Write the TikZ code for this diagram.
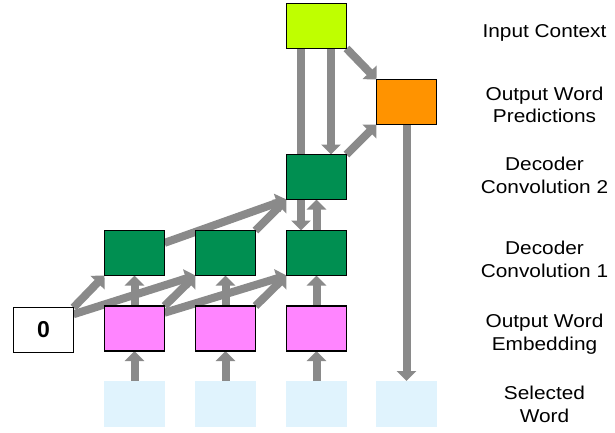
\documentclass[tikz,border=0pt]{standalone}
\usepackage{fontspec}
\setmainfont{Liberation Sans}
\newfontfamily\labfont{Liberation Sans}[FakeStretch=1.12]
\usetikzlibrary{arrows.meta,calc}
\definecolor{limec}{RGB}{191,255,0}
\definecolor{orangec}{RGB}{255,147,0}
\definecolor{greenc}{RGB}{0,143,81}
\definecolor{pinkc}{RGB}{255,133,255}
\definecolor{bluec}{RGB}{224,243,253}
\definecolor{arrowc}{RGB}{138,138,138}
\pgfdeclarelayer{background}
\pgfsetlayers{background,main}
\begin{document}
\begin{tikzpicture}[x=1pt,y=-1pt,
  box/.style={draw=black,line width=1.4pt,minimum width=60pt,minimum height=45pt,inner sep=0pt,outer sep=0pt},
  wordbox/.style={fill=bluec,minimum width=61pt,minimum height=46pt,inner sep=0pt,outer sep=0pt},
  conn/.style={draw=arrowc,line width=8pt,-{Triangle[width=19pt,length=10pt]}},
  plainconn/.style={draw=arrowc,line width=8pt},
  lab/.style={font=\labfont\fontsize{18.6}{22}\selectfont,anchor=base,inner sep=0pt}]
\useasboundingbox (0,0) rectangle (615,432);

% nodes
\node[box,fill=white,font=\bfseries\fontsize{23}{26}\selectfont] (zero) at (43.5,330) {0};
\foreach \i/\x in {1/134.5,2/225.5,3/316.5}{
  \node[wordbox] (w\i) at (\x,404) {};
  \node[box,fill=pinkc] (p\i) at (\x,328.5) {};
  \node[box,fill=greenc] (g\i) at (\x,253) {};
}
\node[wordbox] (w4) at (406.5,404) {};
\node[box,fill=greenc] (c2) at (316.5,177) {};
\node[box,fill=limec] (ctx) at (316.5,26) {};
\node[box,fill=orangec] (out) at (406.5,102) {};

% labels
\node[lab] (l1) at (544.5,37) {Input Context};
\node[lab] (l2a) at (544.5,100) {Output Word};
\node[lab] (l2b) at (544.5,122.5) {Predictions};
\node[lab] (l3a) at (544.5,170.5) {Decoder};
\node[lab] (l3b) at (544.5,193.3) {Convolution 2};
\node[lab] (l4a) at (544.5,254) {Decoder};
\node[lab] (l4b) at (544.5,277) {Convolution 1};
\node[lab] (l5a) at (544.5,327.5) {Output Word};
\node[lab] (l5b) at (544.5,350) {Embedding};
\node[lab] (l6a) at (544.5,399.5) {Selected};
\node[lab] (l6b) at (544.5,422) {Word};

% connectors
\begin{pgfonlayer}{background}
\foreach \i in {1,2,3}{
  \draw[conn] (w\i.north) -- (p\i.south);
  \draw[conn] (p\i.north) -- (g\i.south);
}
\draw[conn] (zero.north east) -- (g1.south west);
\draw[conn] ($(zero.north east)!0.3!(zero.east)$) -- (g2.south west);
\draw[conn] (p1.north east) -- (g2.south west);
\draw[conn] ($(p1.north east)!0.3!(p1.east)$) -- (g3.south west);
\draw[conn] (p2.north east) -- (g3.south west);
\draw[conn] ($(g1.north east)!0.55!(g1.east)$) -- (c2.south west);
\draw[conn] (g2.north east) -- (c2.south west);
\draw[conn] (g3.north) -- (c2.south);
\draw[conn] ($(ctx.south)+(-15.5,0)$) -- ($(g3.north)+(-15.5,0)$);
\draw[conn] ($(ctx.south)+(14.5,0)$) -- ($(c2.north)+(14.5,0)$);
\draw[conn] (ctx.south east) -- (out.north west);
\draw[conn] (c2.north east) -- (out.south west);
\draw[conn] (out.south) -- (w4.north);
\end{pgfonlayer}
\end{tikzpicture}
\end{document}
